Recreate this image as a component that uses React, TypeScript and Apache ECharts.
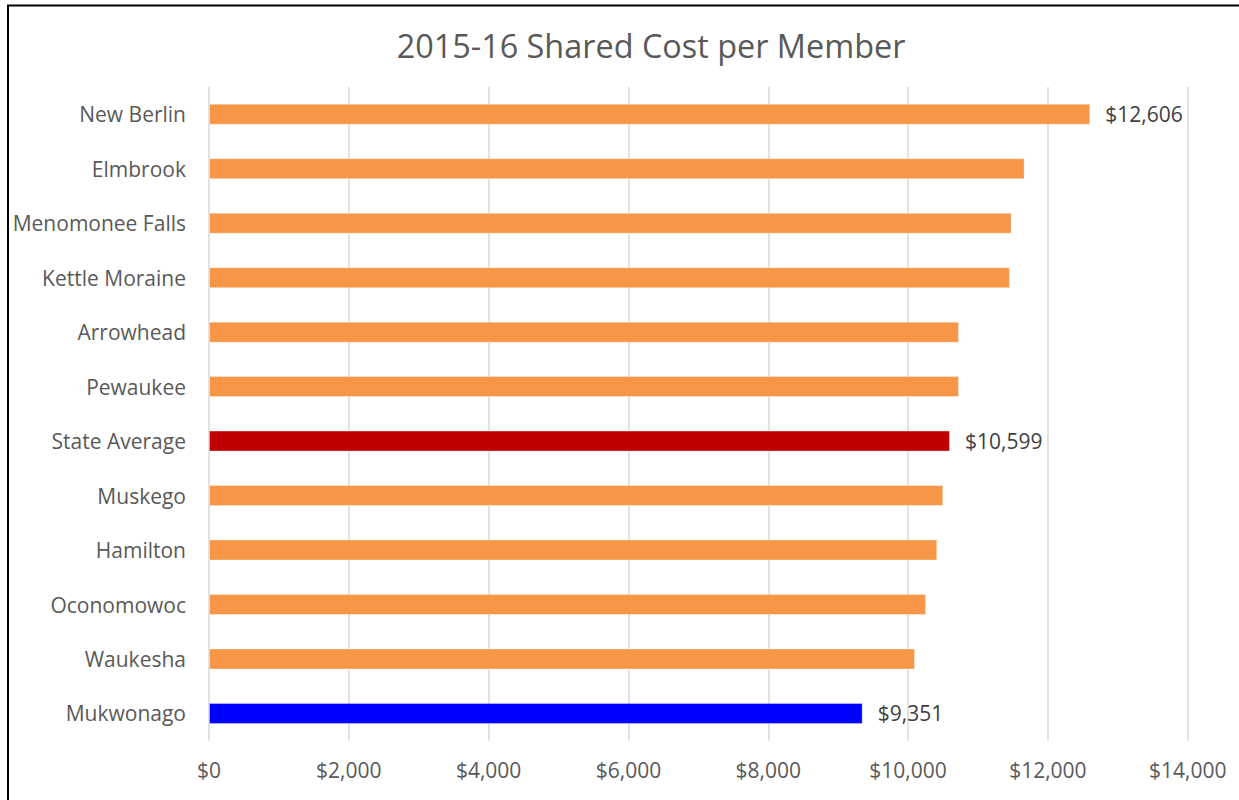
import React, { useEffect, useRef } from "react";
import * as echarts from "echarts";

const chartTitle = "2015-16 Shared Cost per Member";
const categories = [
  "New Berlin",
  "Elmbrook",
  "Menomonee Falls",
  "Kettle Moraine",
  "Arrowhead",
  "Pewaukee",
  "State Average",
  "Muskego",
  "Hamilton",
  "Oconomowoc",
  "Waukesha",
  "Mukwonago",
];
const costPerMember = [12606, 11667, 11480, 11457, 10728, 10728, 10599, 10503, 10417, 10257, 10099, 9351];
const labelledCategories = ["New Berlin", "State Average", "Mukwonago"];
const axisMin = 0;
const axisMax = 14000;
const axisInterval = 2000;

const FONT = "'Open Sans', Lato, sans-serif";

function barColor(name: string): string {
  if (name === "State Average") return "#C00000";
  if (name === "Mukwonago") return "#0000FF";
  return "#F79646";
}

function money(v: number): string {
  return "$" + v.toLocaleString("en-US");
}

export default function App() {
  const ref = useRef<HTMLDivElement>(null);

  useEffect(() => {
    if (!ref.current) return;
    const chart = echarts.init(ref.current, null, { renderer: "svg" });
    const data = categories.map((name, i) => ({
      value: costPerMember[i],
      itemStyle: { color: barColor(name) },
      label: { show: labelledCategories.includes(name) },
    }));
    chart.setOption({
      animation: false,
      backgroundColor: "#FFFFFF",
      title: {
        text: chartTitle,
        left: 646,
        top: 24,
        textAlign: "center",
        textStyle: { fontFamily: FONT, fontSize: 32.4, fontWeight: "normal", color: "#595959" },
      },
      grid: { left: 209, right: 51.3, top: 87, bottom: 59.3, containLabel: false },
      xAxis: {
        type: "value",
        min: axisMin,
        max: axisMax,
        interval: axisInterval,
        axisLine: { show: false },
        axisTick: { show: false },
        splitLine: { show: true, lineStyle: { color: "#D9D9D9", width: 1.5 } },
        axisLabel: {
          formatter: (v: number) => money(v),
          fontFamily: FONT,
          fontSize: 21,
          color: "#595959",
          margin: 19,
        },
      },
      yAxis: {
        type: "category",
        data: categories,
        inverse: true,
        axisLine: { show: false },
        axisTick: { show: false },
        axisLabel: { fontFamily: FONT, fontSize: 21, color: "#595959", margin: 23 },
      },
      series: [
        {
          type: "bar",
          data,
          barWidth: 21,
          itemStyle: { borderColor: "rgba(255,255,255,0.35)", borderWidth: 1 },
          label: {
            position: "right",
            distance: 15,
            formatter: (p: any) => money(p.value),
            fontFamily: FONT,
            fontSize: 21,
            color: "#404040",
          },
        },
      ],
      graphic: [
        {
          type: "rect",
          shape: { x: 8, y: 5.5, width: 1400, height: 1000 },
          style: { fill: "none", stroke: "#000000", lineWidth: 2 },
          silent: true,
        },
      ],
    });
    return () => chart.dispose();
  }, []);

  return (
    <div
      ref={ref}
      style={{ position: "fixed", left: 0, top: 0, width: 1239, height: 800 }}
    />
  );
}
